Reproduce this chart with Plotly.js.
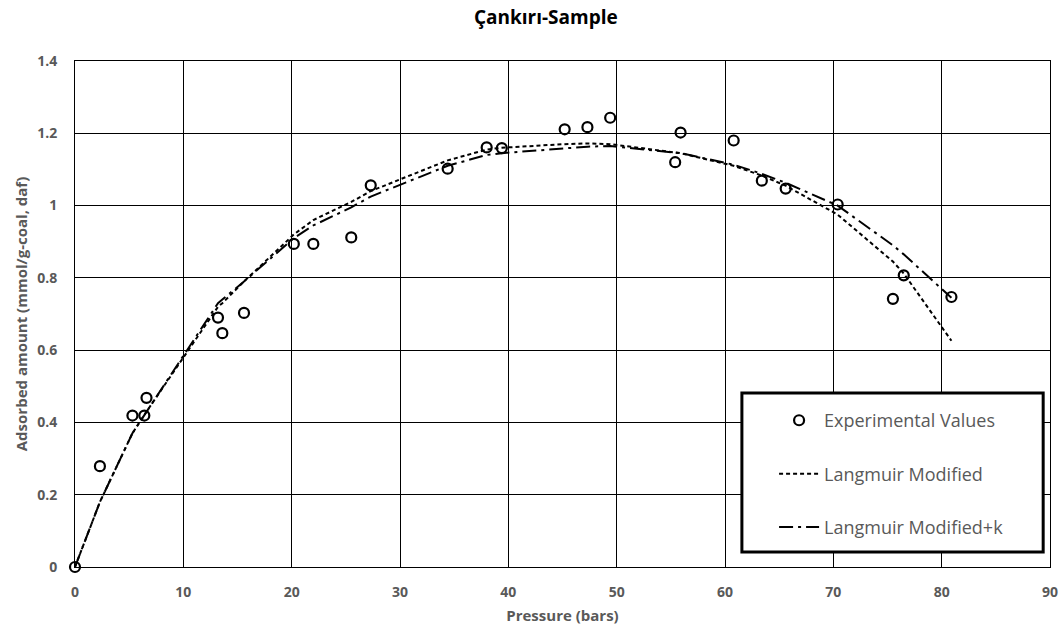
<!DOCTYPE html>
<html>
<head>
<meta charset="utf-8">
<script src="https://cdn.plot.ly/plotly-3.0.1.min.js"></script>
<style>html,body{margin:0;padding:0;background:#fff}#chart{width:1064px;height:630px}</style>
</head>
<body>
<div id="chart"></div>
<script>
// Pressure (bars)
const pressure = [0, 2.3, 5.3, 6.4, 6.6, 13.2, 13.6, 15.6, 20.2, 22.0, 25.5, 27.3, 34.4, 38.0, 39.4, 45.2, 47.3, 49.4, 55.4, 55.9, 60.8, 63.4, 65.6, 70.4, 75.5, 76.5, 80.9];
// Experimental adsorbed amount
const experimental = [0, 0.279, 0.419, 0.419, 0.468, 0.690, 0.647, 0.703, 0.894, 0.894, 0.912, 1.056, 1.102, 1.161, 1.159, 1.211, 1.217, 1.243, 1.120, 1.202, 1.180, 1.069, 1.047, 1.003, 0.742, 0.807, 0.747];
// Langmuir Modified model
const langmuirModified = [0, 0.18, 0.37, 0.42, 0.43, 0.72, 0.73, 0.79, 0.92, 0.96, 1.01, 1.04, 1.125, 1.155, 1.16, 1.17, 1.172, 1.17, 1.148, 1.145, 1.11, 1.083, 1.055, 0.975, 0.845, 0.812, 0.626];
// Langmuir Modified+k model
const langmuirModifiedK = [0, 0.18, 0.37, 0.42, 0.43, 0.73, 0.74, 0.79, 0.91, 0.945, 0.995, 1.025, 1.11, 1.14, 1.145, 1.158, 1.163, 1.165, 1.148, 1.145, 1.113, 1.088, 1.063, 1.0, 0.89, 0.865, 0.745];

const names = ["Experimental Values", "Langmuir Modified", "Langmuir Modified+k"];
const xTicks = [0, 10, 20, 30, 40, 50, 60, 70, 80, 90];
const yTicks = [0, 0.2, 0.4, 0.6, 0.8, 1, 1.2, 1.4];

const gray = "#595959";
const fam = "Open Sans, Liberation Sans, sans-serif";

const traces = [
  {
    x: pressure, y: experimental, name: names[0], type: "scatter", mode: "markers",
    cliponaxis: false, legendgroup: "a",
    marker: {symbol: "circle-open", size: 10, color: "#000", line: {width: 2.2, color: "#000"}}
  },
  {
    x: pressure, y: langmuirModified, name: names[1], type: "scatter", mode: "lines",
    legendgroup: "b",
    line: {color: "#000", width: 2, dash: "4px,3px"}
  },
  {
    x: pressure, y: langmuirModifiedK, name: names[2], type: "scatter", mode: "lines",
    legendgroup: "c",
    line: {color: "#000", width: 2, dash: "14px,5px,3px,5px"}
  }
];

const layout = {
  width: 1064, height: 630,
  margin: {l: 75, r: 14, t: 61, b: 63},
  paper_bgcolor: "#fff", plot_bgcolor: "#fff",
  title: {text: "<b>Çankırı-Sample</b>", font: {family: fam, size: 19, color: "#000"},
          x: 0.513, xref: "container", xanchor: "center", y: 0.972, yref: "container", yanchor: "middle"},
  xaxis: {
    range: [0, 90], tickvals: xTicks, ticktext: xTicks.map(String),
    showgrid: true, gridcolor: "#000", gridwidth: 1,
    showline: true, linecolor: "#000", linewidth: 1, mirror: true, zeroline: false,
    ticks: "", ticklabelstandoff: 12,
    tickfont: {family: fam, size: 14, color: gray, weight: "bold"},
    title: {text: "<b>Pressure (bars)</b>", font: {family: fam, size: 15, color: gray}, standoff: 10}
  },
  yaxis: {
    range: [0, 1.4], tickvals: yTicks, ticktext: yTicks.map(String),
    showgrid: true, gridcolor: "#000", gridwidth: 1,
    showline: true, linecolor: "#000", linewidth: 1, mirror: true, zeroline: false,
    ticks: "", ticklabelstandoff: 14,
    tickfont: {family: fam, size: 14, color: gray, weight: "bold"},
    title: {text: "<b>Adsorbed amount (mmol/g-coal, daf)</b>", font: {family: fam, size: 15, color: gray}, standoff: 5}
  },
  showlegend: true,
  legend: {
    x: 0.717, xanchor: "left", y: 0.326, yanchor: "top",
    bgcolor: "rgba(0,0,0,0)", borderwidth: 0, itemwidth: 40,
    traceorder: "grouped", tracegroupgap: 27,
    font: {family: fam, size: 18, color: gray}
  },
  shapes: [{
    type: "rect", xref: "paper", yref: "paper",
    x0: 0.684, x1: 0.993, y0: 0.0296, y1: 0.344,
    line: {color: "#000", width: 3}, fillcolor: "#fff", layer: "above"
  }]
};

Plotly.newPlot("chart", traces, layout, {displayModeBar: false, staticPlot: true});
</script>
</body>
</html>
